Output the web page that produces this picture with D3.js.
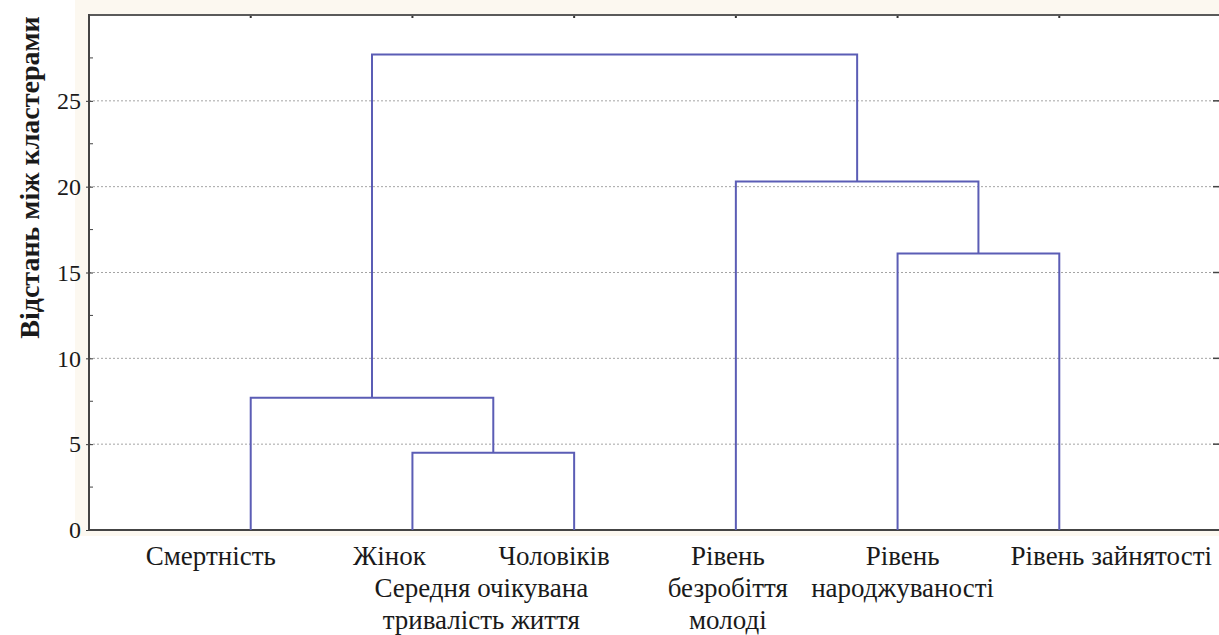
<!DOCTYPE html>
<html>
<head>
<meta charset="utf-8">
<script src="https://cdn.jsdelivr.net/npm/d3@7"></script>
<style>
  html, body { margin: 0; padding: 0; background: #ffffff; }
  svg { display: block; }
  text { font-family: "Liberation Serif", "Times New Roman", serif; fill: #1a1a1a; }
</style>
</head>
<body>
<svg id="chart" width="1219" height="635"></svg>
<script>
// Variables in leaf order along the horizontal axis
const leafNames = ["Смертність", "Жінок", "Чоловіків",
  "Рівень безробіття молоді", "Рівень народжуваності", "Рівень зайнятості"];

// Label lines under each leaf
const leafLabelLines = [
  ["Смертність"],
  ["Жінок"],
  ["Чоловіків"],
  ["Рівень", "безробіття", "молоді"],
  ["Рівень", "народжуваності"],
  ["Рівень зайнятості"]
];

// Shared caption under the two life-expectancy leaves
const groupLabelLeaves = [1, 2];
const groupLabelLines = ["Середня очікувана", "тривалість життя"];

// Linkage: [left node, right node, joining distance]; new nodes are numbered from 6 on
const merges = [
  [1, 2, 4.5],
  [0, 6, 7.7],
  [4, 5, 16.1],
  [3, 8, 20.3],
  [7, 9, 27.7]
];

// Axis values
const yMajorTicks = [0, 5, 10, 15, 20, 25];
const yMinorTicks = [2.5, 7.5, 12.5, 17.5, 22.5, 27.5];
const yTitle = "Відстань між кластерами";

// ---- layout ----
const W = 1219, H = 635;
const plot = { left: 89, top: 15, right: 1221, bottom: 530 };
const labelShift = [-40, -23, -20, -8, 5, 52];  // horizontal nudge of each leaf caption
const groupShift = -12;

const svg = d3.select("#chart");

const x = d3.scaleLinear().domain([0, leafNames.length + 1]).range([plot.left, plot.right]);
const y = d3.scaleLinear().domain([0, 30]).range([plot.bottom, plot.top]);

// chart backdrop and white plotting area
svg.append("rect").attr("x", 75).attr("y", 0).attr("width", W - 75).attr("height", 536)
  .attr("fill", "#fcf8f0");
svg.append("rect").attr("x", plot.left).attr("y", plot.top)
  .attr("width", plot.right - plot.left).attr("height", plot.bottom - plot.top)
  .attr("fill", "#ffffff");

// dotted gridlines at major values
svg.append("g").selectAll("line").data(yMajorTicks.filter(d => d > 0)).join("line")
  .attr("x1", plot.left).attr("x2", plot.right)
  .attr("y1", d => y(d)).attr("y2", d => y(d))
  .attr("stroke", "#a4a4a4").attr("stroke-width", 1).attr("stroke-dasharray", "2,2");

// left axis
const yAxis = d3.axisLeft(y).tickValues(yMajorTicks).tickSize(3).tickPadding(5)
  .tickFormat(d3.format("d"));
const gy = svg.append("g").attr("transform", `translate(${plot.left},0)`).call(yAxis);
gy.select(".domain").remove();
gy.selectAll(".tick line").attr("stroke", "#333").attr("x2", -3).attr("x1", 4);
gy.selectAll(".tick text").attr("font-size", 24).attr("fill", "#1a1a1a")
  .attr("font-family", "Liberation Serif, serif");

// minor ticks on the left axis
svg.append("g").selectAll("line").data(yMinorTicks).join("line")
  .attr("x1", plot.left).attr("x2", plot.left + 4)
  .attr("y1", d => y(d)).attr("y2", d => y(d))
  .attr("stroke", "#444").attr("stroke-width", 1);

// right-hand ticks
svg.append("g").selectAll("line").data(yMajorTicks.filter(d => d > 0)).join("line")
  .attr("x1", plot.right).attr("x2", plot.right - 8)
  .attr("y1", d => y(d)).attr("y2", d => y(d))
  .attr("stroke", "#444").attr("stroke-width", 1.5);

// top ticks at leaf positions
const leafIdx = d3.range(leafNames.length);
svg.append("g").selectAll("line").data(leafIdx).join("line")
  .attr("x1", i => x(i + 1)).attr("x2", i => x(i + 1))
  .attr("y1", plot.top).attr("y2", plot.top + 3)
  .attr("stroke", "#333").attr("stroke-width", 2);

// frame
svg.append("line").attr("x1", plot.left - 1).attr("x2", plot.right)
  .attr("y1", plot.top).attr("y2", plot.top)
  .attr("stroke", "#5a5a5a").attr("stroke-width", 2.2);
svg.append("line").attr("x1", plot.left).attr("x2", plot.left)
  .attr("y1", plot.top - 1).attr("y2", plot.bottom + 1)
  .attr("stroke", "#444").attr("stroke-width", 2);
svg.append("line").attr("x1", plot.left - 1).attr("x2", plot.right)
  .attr("y1", plot.bottom).attr("y2", plot.bottom)
  .attr("stroke", "#444").attr("stroke-width", 2);

// ---- dendrogram ----
const nodes = leafIdx.map(i => ({ x: x(i + 1), h: 0 }));
merges.forEach(([a, b, h]) => {
  nodes.push({ x: (nodes[a].x + nodes[b].x) / 2, h: h, a: a, b: b });
});
const links = merges.map((m, k) => nodes[leafNames.length + k]);

svg.append("g").selectAll("path").data(links).join("path")
  .attr("d", n => {
    const A = nodes[n.a], B = nodes[n.b];
    return `M${A.x},${y(A.h)}V${y(n.h)}H${B.x}V${y(B.h)}`;
  })
  .attr("fill", "none").attr("stroke", "#5b5db5").attr("stroke-width", 2);

// ---- captions ----
const rowBase = 565, rowStep = 32;
const lg = svg.append("g").attr("font-size", 27).attr("text-anchor", "middle");
leafIdx.forEach(i => {
  leafLabelLines[i].forEach((line, r) => {
    lg.append("text").attr("x", x(i + 1) + labelShift[i]).attr("y", rowBase + r * rowStep)
      .text(line);
  });
});
const gx = (x(groupLabelLeaves[0] + 1) + x(groupLabelLeaves[1] + 1)) / 2 + groupShift;
groupLabelLines.forEach((line, r) => {
  lg.append("text").attr("x", gx).attr("y", rowBase + (r + 1) * rowStep).text(line);
});

// axis title
svg.append("text")
  .attr("transform", `translate(39,${(plot.top + 340) / 2}) rotate(-90)`)
  .attr("text-anchor", "middle").attr("font-size", 28).attr("font-weight", "bold")
  .text(yTitle);
</script>
</body>
</html>
